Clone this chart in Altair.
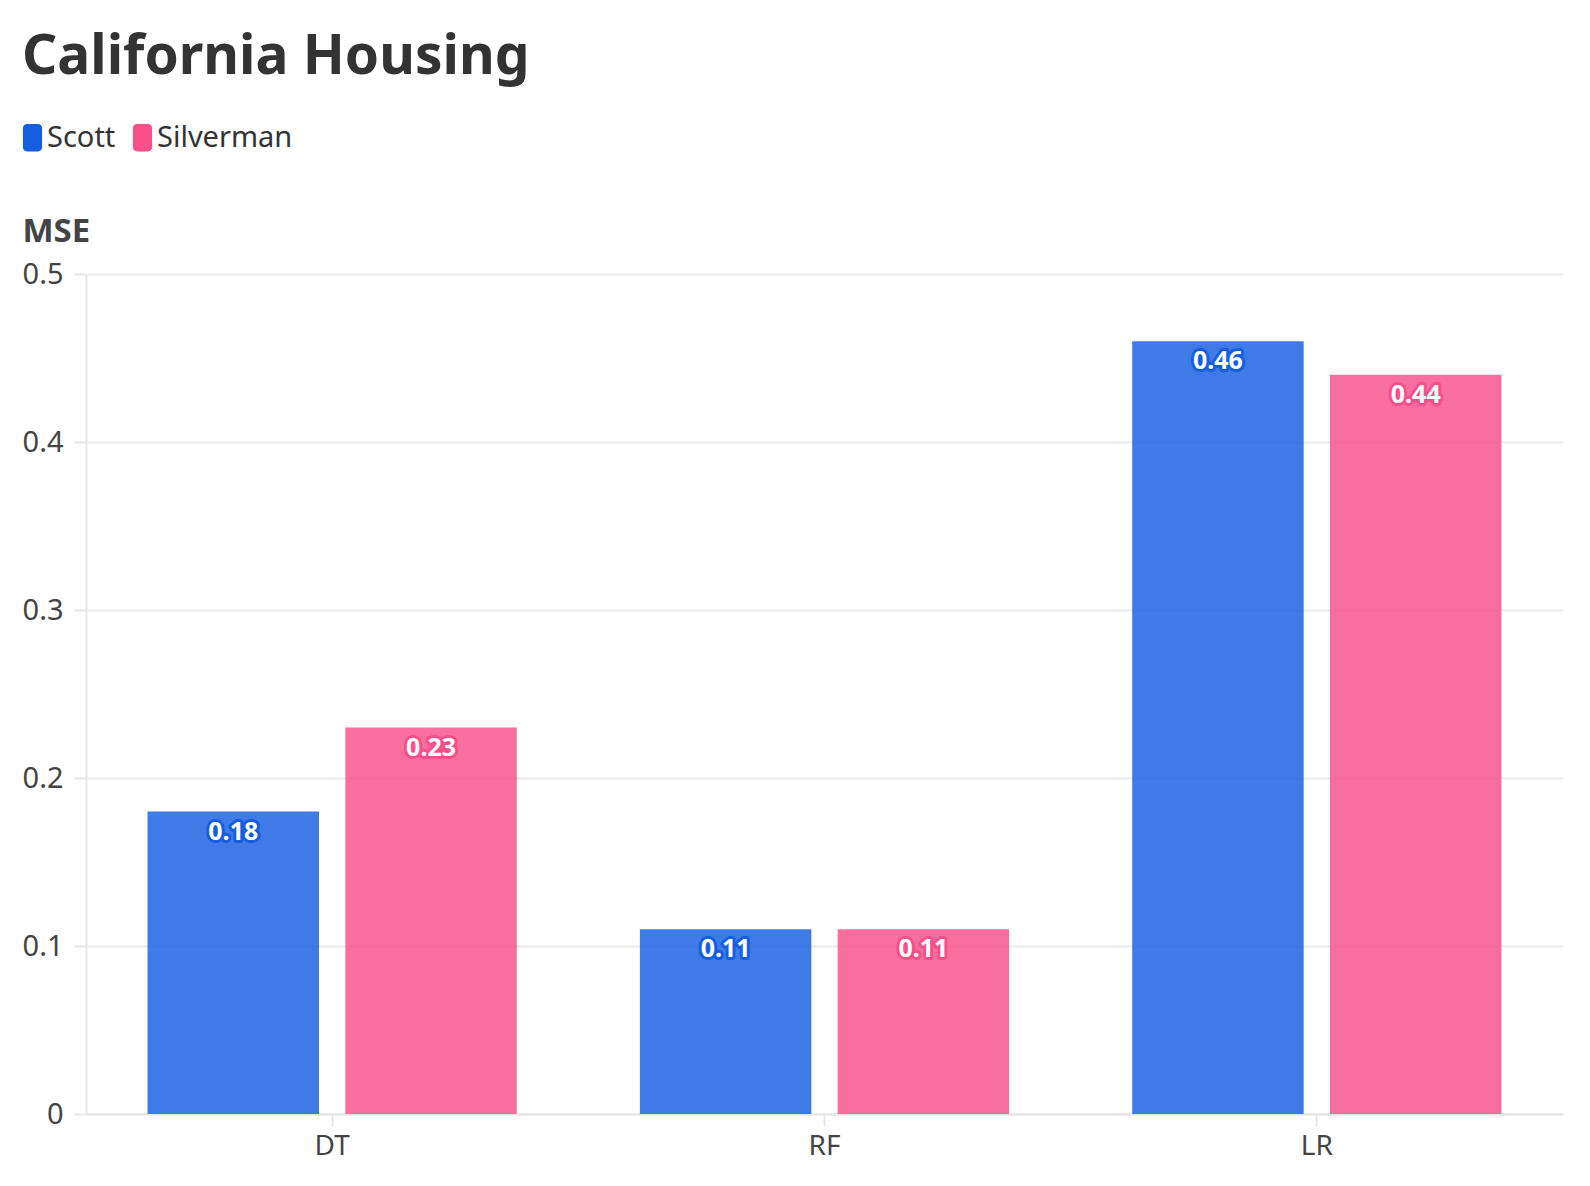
import altair as alt
import pandas as pd

categories = ["DT", "RF", "LR"]
series = ["Scott", "Silverman"]
scott = [0.18, 0.11, 0.46]
silverman = [0.23, 0.11, 0.44]
colors = ["#155ee0", "#f64f8a"]

rows = []
for i, c in enumerate(categories):
    rows.append({"model": c, "method": "Scott", "mse": scott[i]})
    rows.append({"model": c, "method": "Silverman", "mse": silverman[i]})
df = pd.DataFrame(rows)

FONT = "Noto Sans"
swatch = ("M-0.4,-1H0.4A0.3,0.3 0 0 1 0.7,-0.7V0.7A0.3,0.3 0 0 1 0.4,1"
          "H-0.4A0.3,0.3 0 0 1 -0.7,0.7V-0.7A0.3,0.3 0 0 1 -0.4,-1Z")

color = alt.Color(
    "method:N",
    scale=alt.Scale(domain=series, range=colors),
    legend=alt.Legend(
        title=None, orient="none", legendX=-68, legendY=-151, direction="horizontal",
        symbolType=swatch, symbolSize=750, symbolOpacity=1, symbolStrokeWidth=0,
        labelFontSize=29, labelFont=FONT, labelColor="#333333", labelOffset=0,
        columnPadding=12,
    ),
)

x = alt.X("model:N", sort=categories, title=None,
          scale=alt.Scale(paddingInner=0.25, paddingOuter=0.125),
          axis=alt.Axis(labelAngle=0, labelFontSize=28, labelFont=FONT, labelColor="#444444",
                        labelPadding=6, tickSize=12, tickColor="#e6e6e6", tickWidth=2,
                        domainColor="#e6e6e6", domainWidth=2, grid=False))
xo = alt.XOffset("method:N", sort=series, scale=alt.Scale(paddingInner=0.133, paddingOuter=0))
y = alt.Y("mse:Q", scale=alt.Scale(domain=[0, 0.5]),
          axis=alt.Axis(title="MSE", titleAngle=0, titleAlign="left", titleAnchor="end",
                        titleBaseline="alphabetic", titleX=-64, titleY=-33,
                        titleFontSize=33, titleFont=FONT, titleFontWeight="bold", titleColor="#444444",
                        values=[0, 0.1, 0.2, 0.3, 0.4, 0.5], format="~g",
                        labelFontSize=29, labelFont=FONT, labelColor="#444444", labelPadding=11,
                        tickSize=12, tickColor="#e6e6e6", tickWidth=2,
                        domainColor="#e6e6e6", domainWidth=2,
                        gridColor="#ebebeb", gridWidth=2))

base = alt.Chart(df)
bars = base.mark_bar(opacity=0.82).encode(x=x, xOffset=xo, y=y, color=color)
halo = base.mark_text(baseline="middle", dy=20, fontSize=25, font=FONT, fontWeight="bold",
                      strokeWidth=6, strokeJoin="round").encode(
    x=x, xOffset=xo, y=y, text=alt.Text("mse:Q", format=".2f"),
    stroke=alt.Stroke("method:N", scale=alt.Scale(domain=series, range=colors), legend=None),
    fill=alt.Fill("method:N", scale=alt.Scale(domain=series, range=colors), legend=None))
label = base.mark_text(baseline="middle", dy=20, fontSize=25, font=FONT, fontWeight="bold",
                       color="white").encode(
    x=x, xOffset=xo, y=y, text=alt.Text("mse:Q", format=".2f"))

chart = alt.layer(bars, halo, label).resolve_scale(fill="independent", stroke="independent").properties(
    width=1477, height=840,
    padding={"left": 10, "top": 22, "right": 5, "bottom": 5},
    title=alt.TitleParams("California Housing", anchor="start", fontSize=55, font=FONT,
                          fontWeight="bold", color="#333333", offset=37, frame="group", dx=-64),
).configure_view(stroke=None)

chart.save("out.html", embed_options={"renderer": "svg", "actions": False})
